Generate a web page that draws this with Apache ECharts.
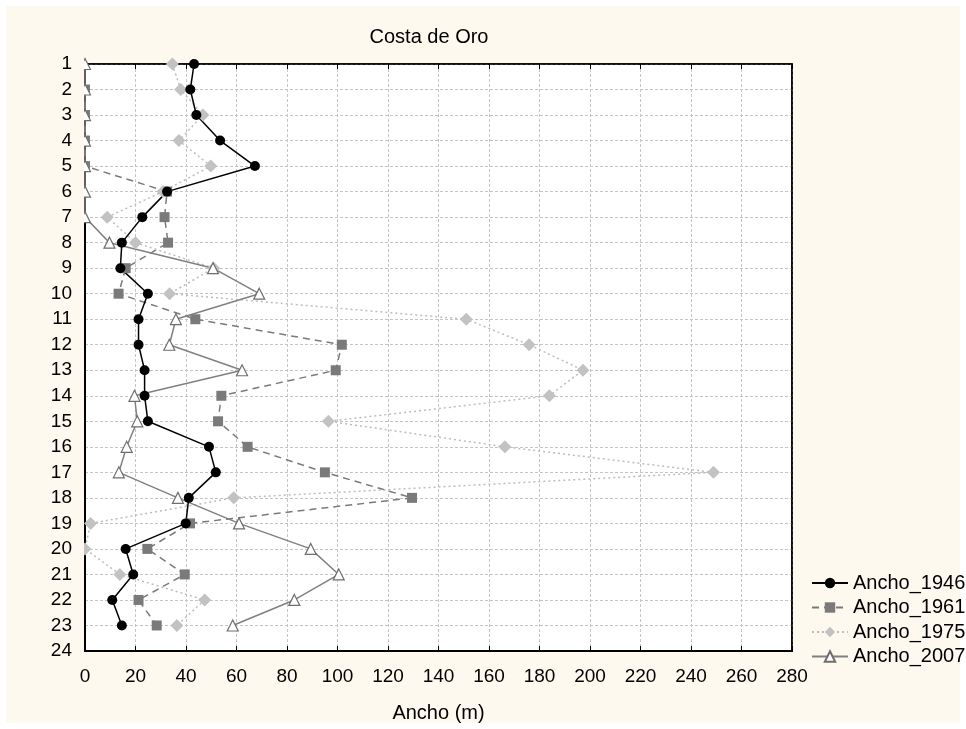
<!DOCTYPE html>
<html>
<head>
<meta charset="utf-8">
<script src="https://cdn.jsdelivr.net/npm/echarts@6/dist/echarts.min.js"></script>
<style>
  html, body { margin: 0; padding: 0; background: #ffffff; }
  #chart { width: 966px; height: 729px; }
</style>
</head>
<body>
<div id="chart"></div>
<script>
// Transect numbers along the coast (vertical axis, 1 at top)
const categories = [1, 2, 3, 4, 5, 6, 7, 8, 9, 10, 11, 12, 13, 14, 15, 16, 17, 18, 19, 20, 21, 22, 23, 24];
const xTicks = [0, 20, 40, 60, 80, 100, 120, 140, 160, 180, 200, 220, 240, 260, 280];

// Beach width (m) per transect and year
const ancho1946 = [43.2, 41.7, 44.1, 53.5, 67.3, 32.5, 22.7, 14.6, 14.0, 24.9, 21.2, 21.2, 23.6, 23.6, 24.9, 49.1, 51.8, 41.1, 39.9, 16.1, 19.1, 10.8, 14.6, null];
const ancho1961 = [null, 0, 0, 0, 0, 32.5, 31.5, 32.9, 16.1, 13.3, 43.7, 101.7, 99.3, 54.0, 52.7, 64.4, 95.0, 129.5, 41.6, 24.7, 39.5, 21.2, 28.4, null];
const ancho1975 = [34.6, 37.9, 46.7, 37.2, 49.8, 30.9, 8.8, 20.0, 51.0, 33.5, 151.0, 175.9, 197.2, 183.9, 96.4, 166.3, 248.9, 58.9, 2.2, 0, 13.8, 47.4, 36.4, null];
const ancho2007 = [0, 0, 0, 0, 0, 0, 0, 9.7, 50.7, 69.0, 36.0, 33.4, 62.2, 19.6, 20.7, 16.5, 13.4, 36.8, 61.0, 89.4, 100.5, 82.9, 58.5, null];

const FONT = '"Liberation Sans", Arial, sans-serif';
const CREAM = '#fdf9ef';
const G = { left: 85, right: 174, top: 64, bottom: 78 };

function pairs(values) {
  return values.map((v, i) => [v, categories[i]]);
}

const chart = echarts.init(document.getElementById('chart'), null, { renderer: 'canvas' });

const gridLine = { show: true, lineStyle: { color: '#c4c4c4', type: [3, 2], width: 1 } };

chart.setOption({
  backgroundColor: '#ffffff',
  animation: false,
  graphic: [
    { type: 'rect', z: -100, shape: { x: 6, y: 6, width: 954, height: 717 }, style: { fill: CREAM } },
    // keeps zero-width markers tucked behind the left frame
    { type: 'rect', z: 100, shape: { x: G.left - 7, y: G.top - 7, width: 6, height: 729 - G.top - G.bottom + 14 }, style: { fill: CREAM } }
  ],
  title: {
    text: 'Costa de Oro',
    left: 424, top: 22, textAlign: 'center',
    textStyle: { fontFamily: FONT, fontSize: 20, fontWeight: 'normal', color: '#000' }
  },
  legend: {
    orient: 'vertical',
    left: 806, top: 568,
    itemWidth: 36, itemHeight: 13, itemGap: 4.5, itemTextGap: 9,
    data: ['Ancho_1946', 'Ancho_1961', 'Ancho_1975', 'Ancho_2007'],
    textStyle: { fontFamily: FONT, fontSize: 20, color: '#000', lineHeight: 20 }
  },
  grid: {
    left: G.left, right: G.right, top: G.top, bottom: G.bottom,
    show: true, backgroundColor: '#ffffff', borderColor: '#000', borderWidth: 1.5
  },
  xAxis: [
    {
      type: 'value', min: 0, max: 280, interval: 20, position: 'bottom',
      name: 'Ancho (m)', nameLocation: 'middle', nameGap: 52,
      nameTextStyle: { fontFamily: FONT, fontSize: 20, color: '#000' },
      axisLine: { show: true, onZero: false, lineStyle: { color: '#000', width: 2 } },
      axisTick: { show: true, inside: true, length: 5, lineStyle: { color: '#000' } },
      axisLabel: { fontFamily: FONT, fontSize: 19, color: '#000', margin: 16,
        formatter: v => (xTicks.includes(v) ? String(v) : '') },
      splitLine: gridLine
    },
    {
      type: 'value', min: 0, max: 280, interval: 20, position: 'top',
      axisLine: { show: true, onZero: false, lineStyle: { color: '#000', width: 1.5 } },
      axisTick: { show: true, inside: true, length: 5, lineStyle: { color: '#000' } },
      axisLabel: { show: false }, splitLine: { show: false }
    }
  ],
  yAxis: [
    {
      type: 'value', min: 1, max: 24, interval: 1, inverse: true, position: 'left',
      axisLine: { show: true, onZero: false, lineStyle: { color: '#000', width: 2 } },
      axisTick: { show: false },
      axisLabel: { fontFamily: FONT, fontSize: 19, color: '#000', margin: 13 },
      splitLine: gridLine
    },
    {
      type: 'value', min: 1, max: 24, interval: 1, inverse: true, position: 'right',
      axisLine: { show: true, onZero: false, lineStyle: { color: '#000', width: 1.5 } },
      axisTick: { show: false }, axisLabel: { show: false }, splitLine: { show: false }
    }
  ],
  series: [
    {
      name: 'Ancho_1961', type: 'line', data: pairs(ancho1961),
      symbol: 'rect', symbolSize: 10,
      itemStyle: { color: '#7a7a7a' },
      lineStyle: { color: '#7a7a7a', width: 1.5, type: [7, 5] }
    },
    {
      name: 'Ancho_1975', type: 'line', data: pairs(ancho1975),
      symbol: 'diamond', symbolSize: 13,
      itemStyle: { color: '#c2c2c2' },
      lineStyle: { color: '#bdbdbd', width: 1.5, type: [2, 3] }
    },
    {
      name: 'Ancho_2007', type: 'line', data: pairs(ancho2007),
      symbol: 'triangle', symbolSize: 11,
      itemStyle: { color: '#ffffff', borderColor: '#6e6e6e', borderWidth: 1.2 },
      lineStyle: { color: '#808080', width: 1.5 }
    },
    {
      name: 'Ancho_1946', type: 'line', data: pairs(ancho1946),
      symbol: 'circle', symbolSize: 10,
      itemStyle: { color: '#000000' },
      lineStyle: { color: '#000000', width: 1.5 }
    }
  ]
});
</script>
</body>
</html>
